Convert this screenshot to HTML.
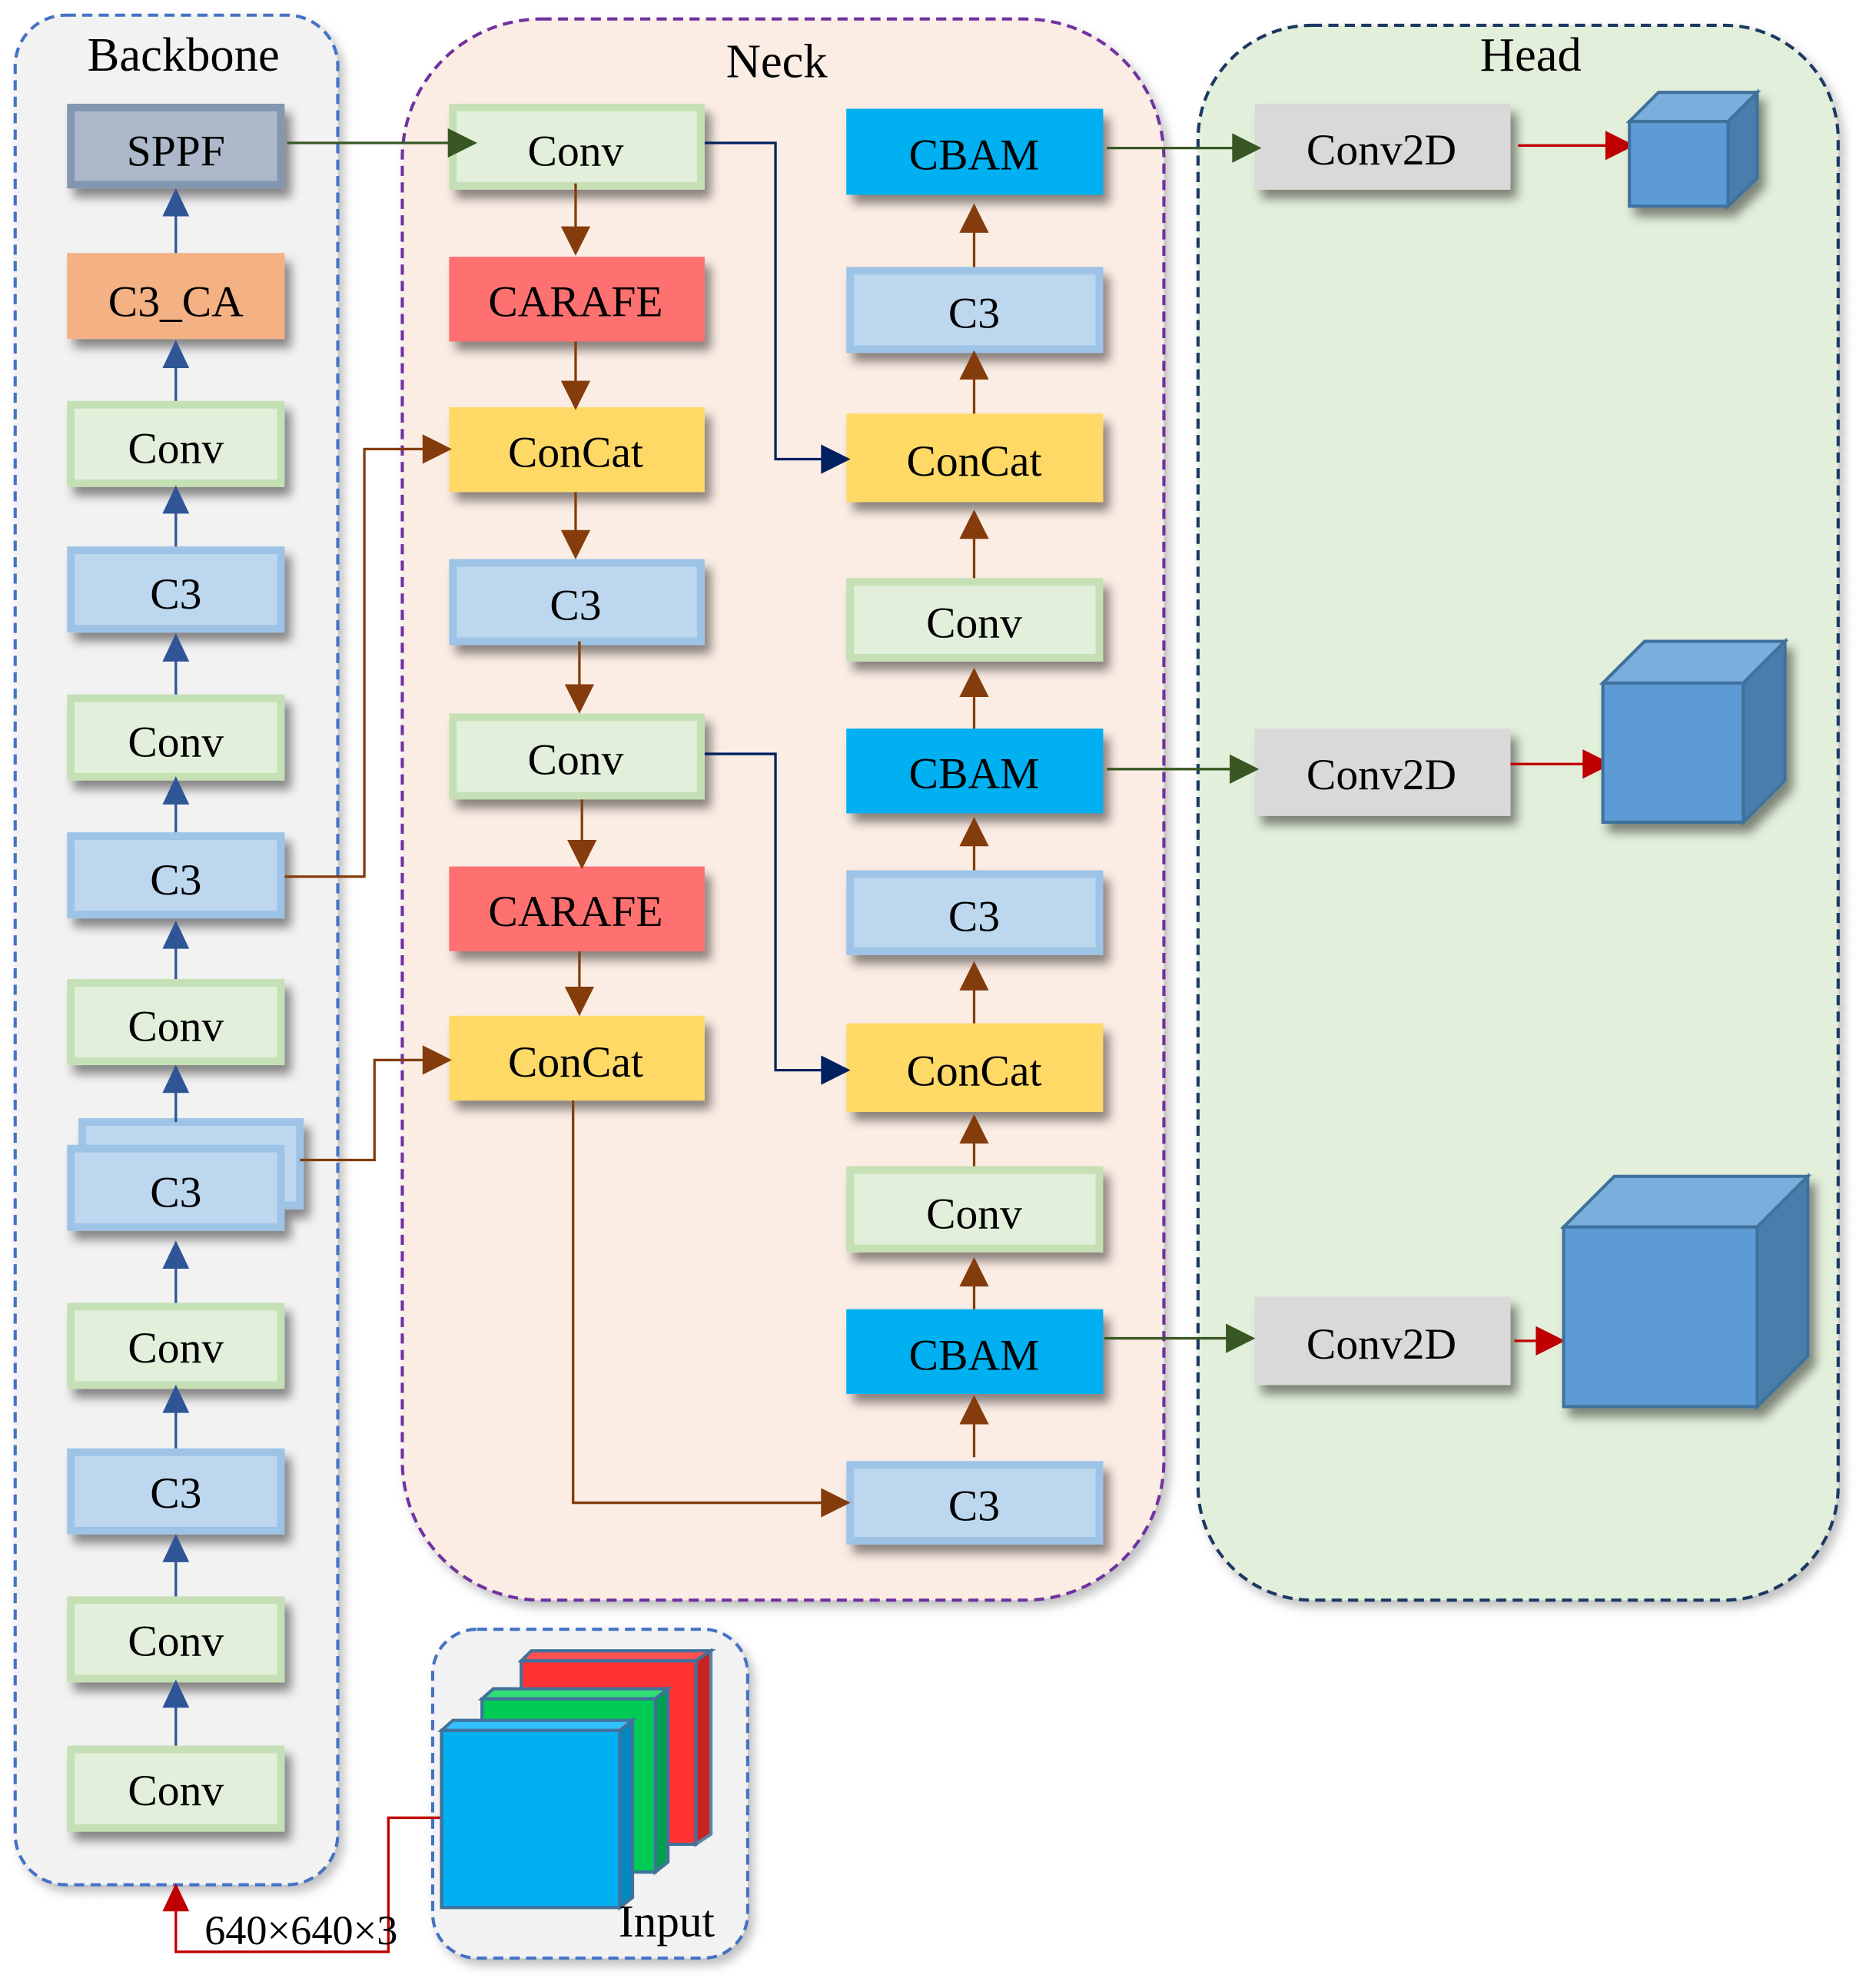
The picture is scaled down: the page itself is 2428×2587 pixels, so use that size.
<!DOCTYPE html>
<html><head><meta charset="utf-8"><style>html,body{margin:0;padding:0;background:#fff}svg{display:block}</style></head>
<body>
<svg xmlns="http://www.w3.org/2000/svg" width="2428" height="2587" viewBox="0 0 1475 1571.6" font-family="Liberation Serif, serif">
<defs>
<filter id="sh" x="-20%" y="-20%" width="150%" height="160%"><feDropShadow dx="5" dy="7" stdDeviation="4" flood-color="#000" flood-opacity="0.45"/></filter>
<filter id="sh2" x="-10%" y="-10%" width="120%" height="120%"><feDropShadow dx="4" dy="5" stdDeviation="4" flood-color="#000" flood-opacity="0.25"/></filter>
</defs>
<rect x="12" y="12" width="255" height="1478" rx="40" fill="#f2f2f2" stroke="#4472c4" stroke-width="2.5" stroke-dasharray="8,5" filter="url(#sh2)"/>
<rect x="318" y="15" width="602" height="1250" rx="110" fill="#fbede4" stroke="#7030a0" stroke-width="2.5" stroke-dasharray="8,5" filter="url(#sh2)"/>
<rect x="947" y="20" width="506" height="1245" rx="90" fill="#e2efda" stroke="#1f3864" stroke-width="2.5" stroke-dasharray="8,5" filter="url(#sh2)"/>
<rect x="342" y="1288" width="249" height="260" rx="35" fill="#f2f2f2" stroke="#4472c4" stroke-width="2.5" stroke-dasharray="8,5" filter="url(#sh2)"/>
<g font-size="38" text-anchor="middle" fill="#000">
<text x="145" y="56">Backbone</text><text x="614" y="61">Neck</text><text x="1210" y="56">Head</text>
</g>
<g filter="url(#sh)">
<rect x="65" y="887" width="172" height="66" fill="#bdd7ee" stroke="#9dc3e6" stroke-width="6"/>
<rect x="56" y="85" width="166" height="61" fill="#adb9ca" stroke="#8497b0" stroke-width="6"/>
<rect x="53" y="200" width="172" height="68" fill="#f4b183"/>
<g fill="#e2efda" stroke="#c5e0b4" stroke-width="6">
<rect x="56" y="320" width="166" height="62"/><rect x="56" y="552" width="166" height="62"/><rect x="56" y="777" width="166" height="62"/><rect x="56" y="1033" width="166" height="62"/><rect x="56" y="1265" width="166" height="62"/><rect x="56" y="1383" width="166" height="62"/>
</g>
<g fill="#bdd7ee" stroke="#9dc3e6" stroke-width="6">
<rect x="56" y="435" width="166" height="62"/><rect x="56" y="661" width="166" height="62"/><rect x="56" y="908" width="166" height="62"/><rect x="56" y="1148" width="166" height="62"/>
</g>
<g fill="#e2efda" stroke="#c5e0b4" stroke-width="6">
<rect x="358" y="85" width="196" height="62"/><rect x="358" y="567" width="196" height="62"/><rect x="672" y="460" width="197" height="60"/><rect x="672" y="925" width="197" height="62"/>
</g>
<g fill="#bdd7ee" stroke="#9dc3e6" stroke-width="6">
<rect x="358" y="445" width="196" height="62"/><rect x="672" y="214" width="197" height="62"/><rect x="672" y="691" width="197" height="61"/><rect x="672" y="1158" width="197" height="60"/>
</g>
<rect x="355" y="203" width="202" height="67" fill="#ff7070"/><rect x="355" y="685" width="202" height="67" fill="#ff7070"/>
<g fill="#ffd966"><rect x="355" y="322" width="202" height="67"/><rect x="355" y="803" width="202" height="67"/><rect x="669" y="327" width="203" height="70"/><rect x="669" y="809" width="203" height="70"/></g>
<g fill="#00b0f0"><rect x="669" y="86" width="203" height="68"/><rect x="669" y="576" width="203" height="67"/><rect x="669" y="1035" width="203" height="67"/></g>
<g fill="#d9d9d9"><rect x="992" y="82" width="202" height="68"/><rect x="992" y="576" width="202" height="69"/><rect x="992" y="1025" width="202" height="70"/></g>
</g>
<g font-size="35" text-anchor="middle" fill="#000">
<text x="139" y="131">SPPF</text><text x="139" y="250">C3_CA</text><text x="139" y="366">Conv</text><text x="139" y="481">C3</text><text x="139" y="598">Conv</text><text x="139" y="707">C3</text><text x="139" y="823">Conv</text><text x="139" y="954">C3</text><text x="139" y="1077">Conv</text><text x="139" y="1192">C3</text><text x="139" y="1309">Conv</text><text x="139" y="1427">Conv</text>
<text x="455" y="131">Conv</text><text x="455" y="250">CARAFE</text><text x="455" y="369">ConCat</text><text x="455" y="490">C3</text><text x="455" y="612">Conv</text><text x="455" y="732">CARAFE</text><text x="455" y="851">ConCat</text>
<text x="770" y="134">CBAM</text><text x="770" y="259">C3</text><text x="770" y="376">ConCat</text><text x="770" y="504">Conv</text><text x="770" y="623">CBAM</text><text x="770" y="736">C3</text><text x="770" y="858">ConCat</text><text x="770" y="971">Conv</text><text x="770" y="1083">CBAM</text><text x="770" y="1202">C3</text>
<text x="1092" y="130">Conv2D</text><text x="1092" y="624">Conv2D</text><text x="1092" y="1074">Conv2D</text>
</g>
<g stroke="#2f5597" stroke-width="2" fill="#2f5597">
<line x1="139" y1="200" x2="139" y2="165"/><path d="M130,170L139,151L148,170z"/>
<line x1="139" y1="317" x2="139" y2="285"/><path d="M130,290L139,271L148,290z"/>
<line x1="139" y1="432" x2="139" y2="400"/><path d="M130,405L139,386L148,405z"/>
<line x1="139" y1="549" x2="139" y2="518"/><path d="M130,522L139,503L148,522z"/>
<line x1="139" y1="658" x2="139" y2="630"/><path d="M130,635L139,616L148,635z"/>
<line x1="139" y1="774" x2="139" y2="745"/><path d="M130,749L139,730L148,749z"/>
<line x1="139" y1="887" x2="139" y2="860"/><path d="M130,863L139,844L148,863z"/>
<line x1="139" y1="1030" x2="139" y2="998"/><path d="M130,1002L139,983L148,1002z"/>
<line x1="139" y1="1145" x2="139" y2="1112"/><path d="M130,1116L139,1097L148,1116z"/>
<line x1="139" y1="1262" x2="139" y2="1230"/><path d="M130,1234L139,1215L148,1234z"/>
<line x1="139" y1="1380" x2="139" y2="1345"/><path d="M130,1349L139,1330L148,1349z"/>
</g>
<g stroke="#385723" stroke-width="2" fill="#385723">
<line x1="227" y1="113" x2="360" y2="113"/><path d="M355,103L375,113L355,123z"/>
<line x1="875" y1="117" x2="978" y2="117"/><path d="M975,107L995,117L975,127z"/>
<line x1="875" y1="608" x2="975" y2="608"/><path d="M973,598L993,608L973,618z"/>
<line x1="873" y1="1058" x2="973" y2="1058"/><path d="M970,1048L990,1058L970,1068z"/>
</g>
<g stroke="#002060" stroke-width="2" fill="#002060">
<polyline points="557,113 613,113 613,363 652,363" fill="none"/><path d="M650,353L670,363L650,373z"/>
<polyline points="557,596 613,596 613,846 652,846" fill="none"/><path d="M650,836L670,846L650,856z"/>
</g>
<g stroke="#843c0c" stroke-width="2" fill="#843c0c">
<line x1="455" y1="145" x2="455" y2="185"/><path d="M445,180L455,200L465,180z"/>
<line x1="455" y1="270" x2="455" y2="305"/><path d="M445,302L455,322L465,302z"/>
<line x1="455" y1="389" x2="455" y2="425"/><path d="M445,420L455,440L465,420z"/>
<line x1="458" y1="507" x2="458" y2="545"/><path d="M448,542L458,562L468,542z"/>
<line x1="460" y1="632" x2="460" y2="668"/><path d="M450,665L460,685L470,665z"/>
<line x1="458" y1="752" x2="458" y2="785"/><path d="M448,781L458,801L468,781z"/>
<polyline points="225,693 288,693 288,355 338,355" fill="none"/><path d="M335,345L355,355L335,365z"/>
<polyline points="237,917 296,917 296,838 338,838" fill="none"/><path d="M335,828L355,838L335,848z"/>
<polyline points="453,870 453,1188 652,1188" fill="none"/><path d="M650,1178L670,1188L650,1198z"/>
<line x1="770" y1="211" x2="770" y2="178"/><path d="M760,183L770,163L780,183z"/>
<line x1="770" y1="327" x2="770" y2="297"/><path d="M760,299L770,279L780,299z"/>
<line x1="770" y1="457" x2="770" y2="420"/><path d="M760,425L770,405L780,425z"/>
<line x1="770" y1="576" x2="770" y2="548"/><path d="M760,550L770,530L780,550z"/>
<line x1="770" y1="688" x2="770" y2="665"/><path d="M760,668L770,648L780,668z"/>
<line x1="770" y1="809" x2="770" y2="780"/><path d="M760,782L770,762L780,782z"/>
<line x1="770" y1="922" x2="770" y2="900"/><path d="M760,903L770,883L780,903z"/>
<line x1="770" y1="1035" x2="770" y2="1015"/><path d="M760,1016L770,996L780,1016z"/>
<line x1="770" y1="1152" x2="770" y2="1125"/><path d="M760,1125L770,1105L780,1125z"/>
</g>
<g stroke="#c00000" stroke-width="2" fill="#c00000">
<line x1="1200" y1="115" x2="1275" y2="115"/><path d="M1270,105L1290,115L1270,125z"/>
<line x1="1194" y1="604" x2="1255" y2="604"/><path d="M1252,594L1272,604L1252,614z"/>
<line x1="1197" y1="1060" x2="1218" y2="1060"/><path d="M1215,1050L1235,1060L1215,1070z"/>
<polyline points="349,1437 307,1437 307,1543 139,1543 139,1505" fill="none"/><path d="M130,1510L139,1491L148,1510z"/>
</g>
<g stroke="#41719c" stroke-width="2.5" filter="url(#sh)">
<path d="M1288,96L1311,73L1389,73L1366,96z" fill="#7aaedd"/><path d="M1366,96L1389,73L1389,141L1366,163z" fill="#4a7eac"/><rect x="1288" y="96" width="78" height="67" fill="#5b9bd5"/>
<path d="M1267,540L1300,507L1411,507L1378,540z" fill="#7aaedd"/><path d="M1378,540L1411,507L1411,617L1378,650z" fill="#4a7eac"/><rect x="1267" y="540" width="111" height="110" fill="#5b9bd5"/>
<path d="M1236,970L1276,930L1429,930L1389,970z" fill="#7aaedd"/><path d="M1389,970L1429,930L1429,1072L1389,1112z" fill="#4a7eac"/><rect x="1236" y="970" width="153" height="142" fill="#5b9bd5"/>
</g>
<g stroke="#41719c" stroke-width="2.5">
<path d="M412,1313L420,1305L562,1305L550,1313z" fill="#ff5050"/><path d="M550,1313L562,1305L562,1450L550,1458z" fill="#c00000" opacity="0.85"/><rect x="412" y="1313" width="138" height="145" fill="#ff3333"/>
<path d="M381,1343L390,1335L528,1335L518,1343z" fill="#33dd77"/><path d="M518,1343L528,1335L528,1472L518,1480z" fill="#00a050"/><rect x="381" y="1343" width="137" height="137" fill="#00cc55"/>
<path d="M349,1368L358,1360L500,1360L490,1368z" fill="#33c0ff"/><path d="M490,1368L500,1360L500,1500L490,1508z" fill="#0088c0"/><rect x="349" y="1368" width="141" height="140" fill="#00b0f0"/>
</g>
<text x="527" y="1531" font-size="36" text-anchor="middle">Input</text>
<text x="238" y="1537" font-size="33" text-anchor="middle">640×640×3</text>
</svg>
</body></html>
